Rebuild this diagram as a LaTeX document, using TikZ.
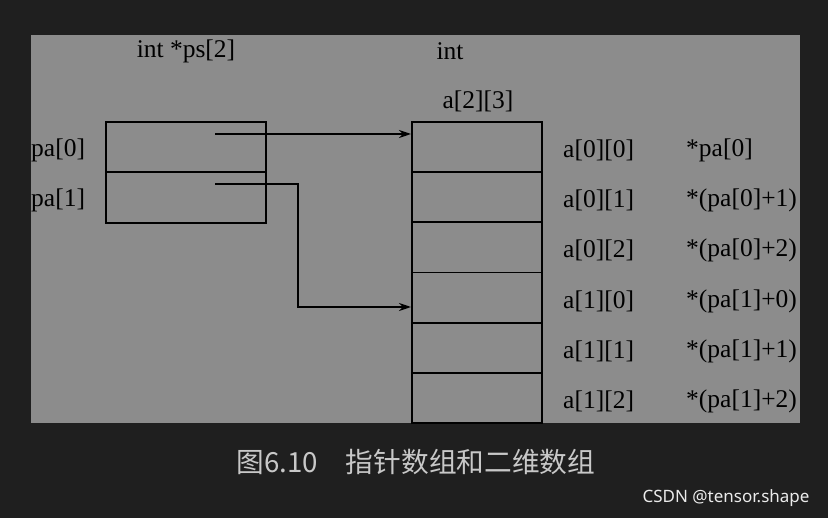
\documentclass[tikz,border=0pt]{standalone}
\usepackage{fontspec}
\setmainfont{Liberation Serif}
\newfontfamily\cjk{Noto Sans CJK SC}
\usetikzlibrary{arrows.meta}
\begin{document}
\begin{tikzpicture}[x=1pt,y=-1pt,
  cell/.style={draw=black,line width=1.8pt,minimum width=130pt,minimum height=50.2pt,inner sep=0pt,anchor=north west},
  lcell/.style={draw=black,line width=1.8pt,minimum width=160pt,minimum height=50.5pt,inner sep=0pt,anchor=north west},
  lab/.style={font=\fontsize{25.5}{30}\selectfont,inner sep=0pt,anchor=west},
  ptr/.style={line width=1.8pt,-{Stealth[length=12pt,width=8pt]}}]
\fill[black!88] (0,0) rectangle (828,518);
\useasboundingbox (0,0) rectangle (828,518);
\fill[fill={rgb,255:red,140;green,140;blue,140}] (31,35) rectangle (800,423);
% left array
\node[lcell] (p0) at (105,121) {};
\node[lcell] (p1) at (105,171.5) {};
\node[lab] (lp0) at (31,150) {pa[0]};
\node[lab] (lp1) at (31,200) {pa[1]};
\node[lab,anchor=center] (t1) at (186,51) {int *ps[2]};
\node[lab,anchor=center] (t2) at (450,51) {int};
\node[lab,anchor=center] (t3) at (478,101) {a[2][3]};
% right array
\foreach \i/\a/\b [count=\k from 0] in {0/a[0][0]/*pa[0],1/a[0][1]/*(pa[0]+1),2/a[0][2]/*(pa[0]+2),3/a[1][0]/*(pa[1]+0),4/a[1][1]/*(pa[1]+1),5/a[1][2]/*(pa[1]+2)}{
  \node[cell] (c\i) at (411,121+50.2*\i) {};
  \node[lab] (la\i) at (563,150+50.3*\i) {\a};
  \node[lab] (lb\i) at (686,150+50.3*\i) {\b};
}
\coordinate (s0) at (215,134);
\coordinate (s1) at (215,184);
\draw[ptr] (s0) -- (c0.west |- s0);
\draw[ptr] (s1) -- (298,184) -- (298,307) -- (c3.west |- 0,307);
\node[font=\cjk\fontsize{27.7}{32}\selectfont,text={rgb,255:red,200;green,200;blue,200}] (cap) at (416,462) {图6.10\quad 指针数组和二维数组};
\node[font=\fontspec{Noto Sans}\fontsize{17}{20}\selectfont,text={rgb,255:red,235;green,235;blue,235},anchor=east] (wm) at (813,498) {CSDN @tensor.shape};
\end{tikzpicture}
\end{document}
